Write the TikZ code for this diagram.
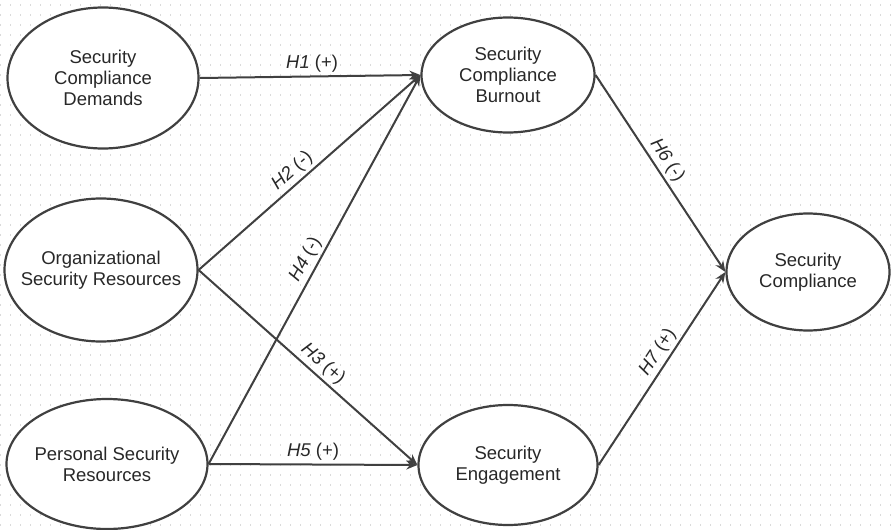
\documentclass[tikz,border=0pt]{standalone}
\usepackage{fontspec}
\setmainfont{Liberation Sans}
\usepackage{tikz}
\usetikzlibrary{shapes.geometric, arrows.meta, positioning}
\definecolor{lineg}{RGB}{64,64,64}
\definecolor{textg}{RGB}{40,40,40}
\definecolor{dotg}{RGB}{218,218,218}

\begin{document}
\begin{tikzpicture}[
  x=1pt, y=-1pt,
  font=\fontsize{18.5}{21}\selectfont,
  construct/.style={ellipse, draw=lineg, line width=2.2pt, fill=white, align=center, text=textg, inner sep=-40pt},
  arr/.style={-{Stealth[length=11pt, width=9pt]}, line width=2pt, lineg},
  hyp/.style={sloped, above, text=textg, inner sep=3pt}
]
  % Background grid
  \fill[white] (0,0) rectangle (892,530);
  \useasboundingbox (0,0) rectangle (892,530);
  \foreach \y in {5,15,...,525}
    \draw[dotg, line width=1.2pt, dash pattern=on 1.2pt off 8.8pt] (0,\y) -- (892,\y);
  % Antecedents
  \node[construct, minimum width=191pt, minimum height=141pt] (scd) at (103,78) {Security\\Compliance\\Demands};
  \node[construct, minimum width=193pt, minimum height=143pt] (osr) at (101,270) {Organizational\\Security Resources};
  \node[construct, minimum width=201pt, minimum height=130pt] (psr) at (107,464) {Personal Security\\Resources};
  % Mediators
  \node[construct, minimum width=173pt, minimum height=115pt] (scb) at (508,75) {Security\\Compliance\\Burnout};
  \node[construct, minimum width=179pt, minimum height=120pt] (se) at (508,465) {Security\\Engagement};
  % Outcome
  \node[construct, minimum width=163pt, minimum height=117pt] (sc) at (808,272) {Security\\Compliance};
  % Hypotheses
  \draw[arr] (scd.east) -- node[hyp, pos=0.51] {\itshape H1 \upshape(+)} (scb.west);
  \draw[arr] (osr.east) -- node[hyp, pos=0.46] {\itshape H2 \upshape(-)} (scb.west);
  \draw[arr] (osr.east) -- node[hyp, pos=0.53] {\itshape H3 \upshape(+)} (se.west);
  \draw[arr] (psr.east) -- node[hyp, pos=0.51] {\itshape H4 \upshape(-)} (scb.west);
  \draw[arr] (psr.east) -- node[hyp, pos=0.5] {\itshape H5 \upshape(+)} (se.west);
  \draw[arr] (scb.east) -- node[hyp, pos=0.47] {\itshape H6 \upshape(-)} (sc.west);
  \draw[arr] (se.east) -- node[hyp, pos=0.55] {\itshape H7 \upshape(+)} (sc.west);
\end{tikzpicture}
\end{document}
